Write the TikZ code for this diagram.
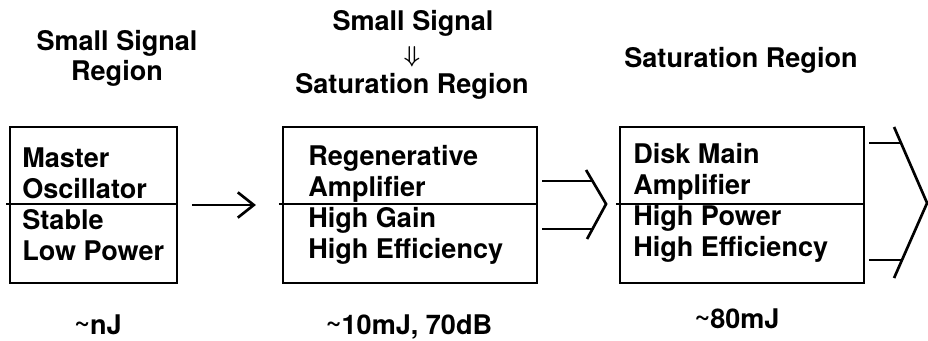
\documentclass[tikz,border=0pt]{standalone}
\usepackage{bm}
\usepackage{fontspec}
\setmainfont{TeX Gyre Heros}
\usepackage{tikz}
\usetikzlibrary{arrows.meta,calc}

\newcommand{\approxsign}{\raisebox{0.25ex}{\char"007E}}

\begin{document}
\begin{tikzpicture}[x=0.75pt,y=-0.75pt,inner sep=0pt,font=\fontsize{20.3}{23}\selectfont\bfseries,
  stagebox/.style={draw,line width=1.6pt,minimum height=117pt},
  beam/.style={line width=1.2pt},
  chev/.style={line width=2pt,line join=miter}]
  \useasboundingbox (0,0) rectangle (928,340);
  \node[anchor=base] (h1a) at (117,50) {Small Signal};
  \node[anchor=base] (h1b) at (117,80) {Region};
  \node[anchor=base] (h2a) at (413,30) {Small Signal};
  \node (h2b) at (412,57) {\fontsize{16}{16}\selectfont$\bm{\Downarrow}$};
  \node[anchor=base] (h2c) at (412,93) {Saturation Region};
  \node[anchor=base] (h3) at (741,67) {Saturation Region};
  \node[stagebox,minimum width=125pt] (mo) at (93.5,205) {};
  \node[stagebox,minimum width=190.5pt] (ra) at (410,205) {};
  \node[stagebox,minimum width=183pt] (dm) at (742,205) {};
  \foreach \b in {mo,ra,dm}
    \draw[line width=1.2pt] ($(\b.west)+(-3,-1)$) -- ($(\b.east)+(0,-1)$);
  \foreach \t [count=\i] in {Master,Oscillator,Stable,Low Power}
    \node[anchor=base west] (mo\i) at (22,{136+31*\i}) {\t};
  \foreach \t [count=\i] in {Regenerative,Amplifier,High Gain,High Efficiency}
    \node[anchor=base west] (ra\i) at (308,{134+31*\i}) {\t};
  \foreach \t [count=\i] in {Disk Main,Amplifier,High Power,High Efficiency}
    \node[anchor=base west] (dm\i) at (633,{132+31*\i}) {\t};
  \node[anchor=base] (e1) at (98,334) {\approxsign nJ};
  \node[anchor=base] (e2) at (409,334) {\approxsign 10mJ, 70dB};
  \node[anchor=base] (e3) at (737,328) {\approxsign 80mJ};
  \draw[line width=1.4pt,shorten <=10.5pt,shorten >=19.5pt,
    -{Straight Barb[length=12pt,width=19pt,line width=2pt]}] (mo) -- (ra);
  \coordinate (t2) at ($(ra.east)+(68,-1)$);
  \draw[chev] ($(t2)+(-20,-34)$) -- (t2) -- ($(t2)+(-19,35)$);
  \draw[beam] ($(ra.east)+(4,-24)$) -- ++(50,0);
  \draw[beam] ($(ra.east)+(4,24)$) -- ++(50,0);
  \coordinate (t3) at ($(dm.east)+(62,-2)$);
  \draw[chev] ($(t3)+(-33,-76)$) -- (t3) -- ($(t3)+(-33,75)$);
  \draw[beam] ($(dm.east)+(4,-62)$) -- ++(33,0);
  \draw[beam] ($(dm.east)+(4,55)$) -- ++(33,0);
\end{tikzpicture}
\end{document}
